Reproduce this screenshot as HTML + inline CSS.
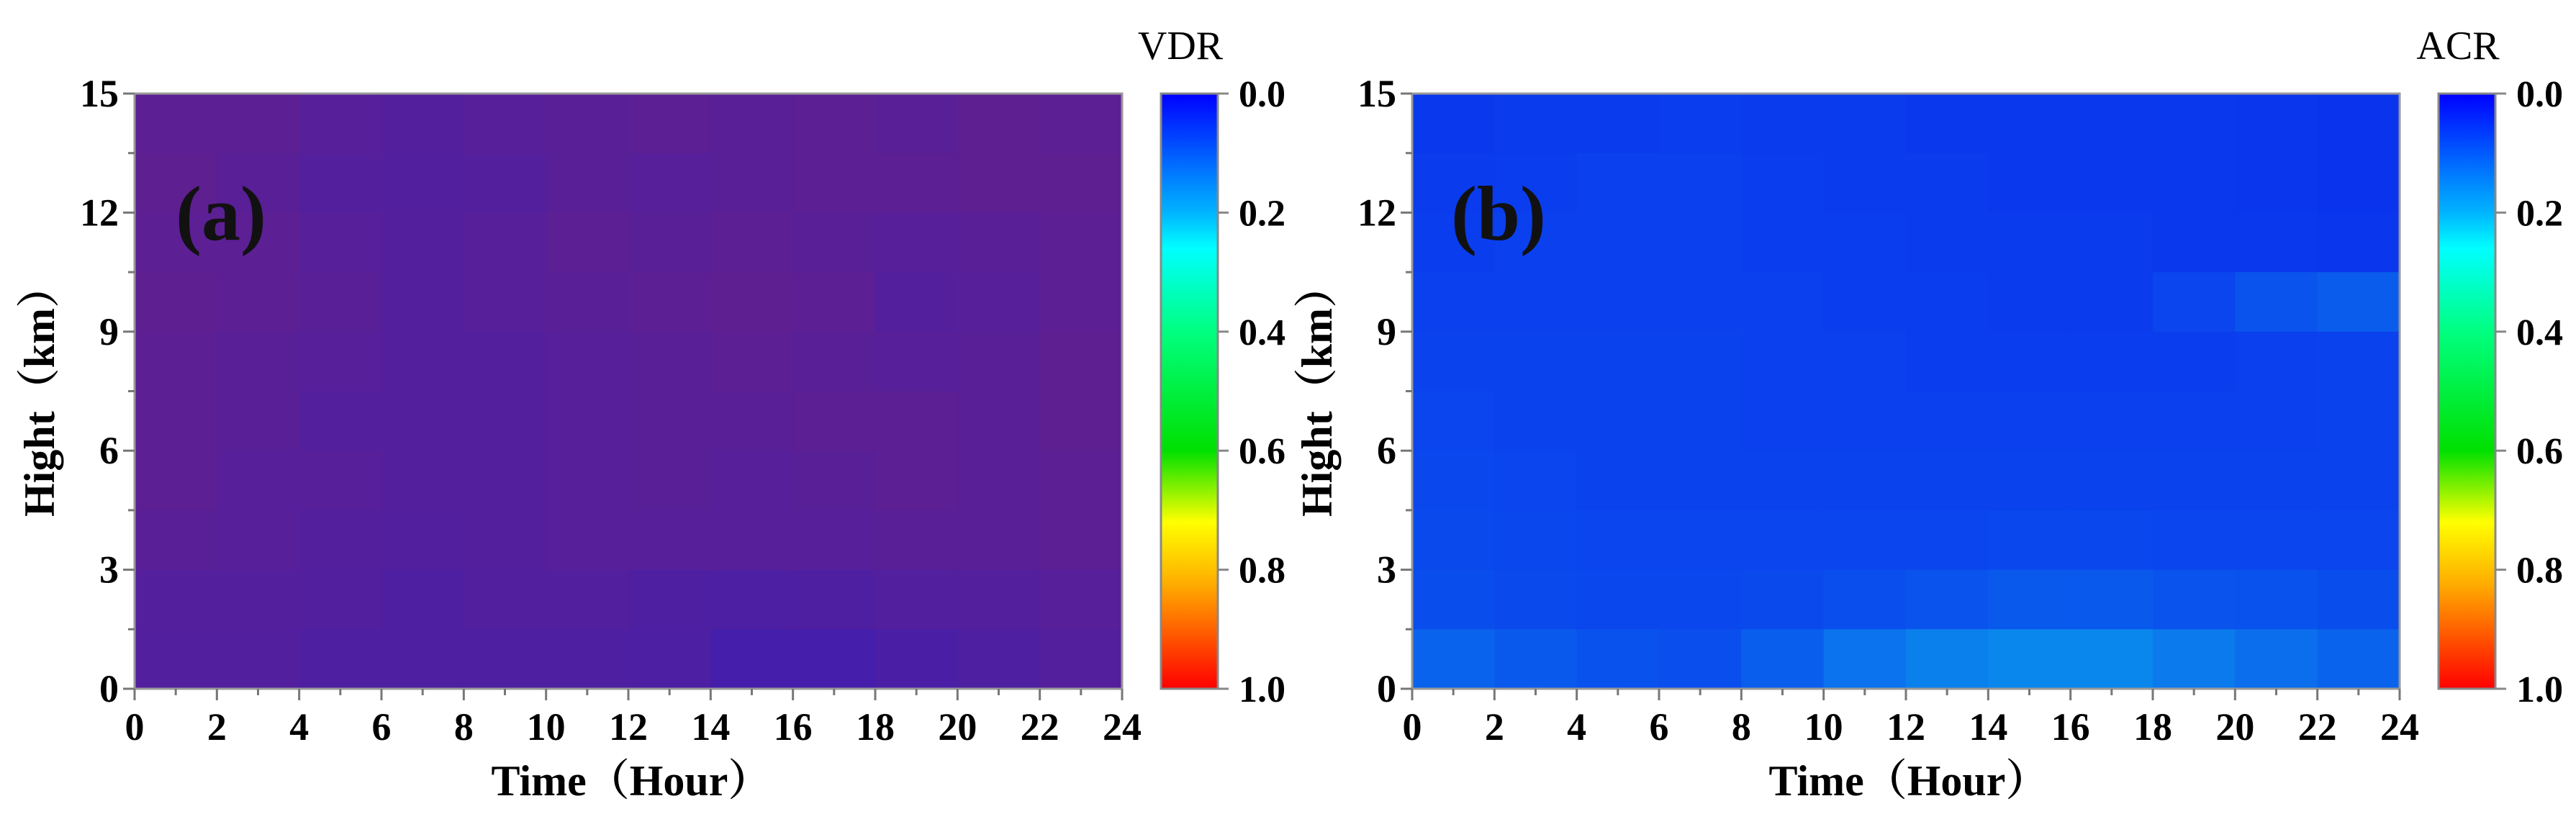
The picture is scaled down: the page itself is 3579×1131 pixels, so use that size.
<!DOCTYPE html>
<html><head><meta charset="utf-8">
<style>
body{margin:0;background:#fff;}
svg{display:block;font-family:"Liberation Serif",serif;}
</style></head>
<body>
<svg id="chart" width="3579" height="1131" viewBox="0 0 3579 1131">
<defs>
<linearGradient id="cmap" x1="0" y1="0" x2="0" y2="1">
<stop offset="0" stop-color="#0000ff"/>
<stop offset="0.2" stop-color="#00b4ff"/>
<stop offset="0.26" stop-color="#00ffff"/>
<stop offset="0.4" stop-color="#00ff80"/>
<stop offset="0.6" stop-color="#00e000"/>
<stop offset="0.72" stop-color="#ffff00"/>
<stop offset="0.82" stop-color="#ffb000"/>
<stop offset="1" stop-color="#ff0000"/>
</linearGradient>
</defs>
</svg>
<script>
// Panel (a): fraction of red (high-VDR) pixels per cell, rows top(15km)->bottom(0km), cols 0..24h by 2h
const vdrRedFrac = [
[0.36,0.36,0.34,0.33,0.34,0.35,0.36,0.35,0.36,0.35,0.37,0.36],
[0.37,0.35,0.33,0.32,0.33,0.35,0.34,0.35,0.36,0.36,0.37,0.37],
[0.36,0.36,0.34,0.33,0.34,0.36,0.35,0.36,0.35,0.34,0.35,0.36],
[0.37,0.36,0.35,0.33,0.34,0.35,0.36,0.37,0.36,0.33,0.34,0.36],
[0.36,0.35,0.34,0.33,0.33,0.34,0.35,0.36,0.35,0.34,0.35,0.37],
[0.36,0.35,0.33,0.33,0.33,0.34,0.35,0.35,0.36,0.36,0.35,0.37],
[0.36,0.34,0.34,0.33,0.33,0.34,0.35,0.34,0.35,0.36,0.35,0.36],
[0.35,0.34,0.33,0.32,0.33,0.34,0.34,0.34,0.34,0.35,0.35,0.36],
[0.33,0.33,0.32,0.31,0.32,0.32,0.31,0.30,0.31,0.32,0.33,0.34],
[0.32,0.32,0.31,0.31,0.31,0.31,0.30,0.27,0.27,0.29,0.31,0.33]
];
// Panel (b): fraction of cyan/green (mid-ACR) pixels per cell
const acrCyanFrac = [
[0.19,0.20,0.20,0.21,0.20,0.20,0.19,0.19,0.19,0.19,0.18,0.17],
[0.20,0.21,0.22,0.22,0.21,0.20,0.20,0.19,0.19,0.19,0.18,0.17],
[0.21,0.22,0.22,0.22,0.21,0.21,0.20,0.20,0.20,0.19,0.19,0.18],
[0.22,0.22,0.22,0.22,0.22,0.21,0.21,0.20,0.20,0.24,0.30,0.33],
[0.23,0.23,0.23,0.23,0.22,0.22,0.21,0.21,0.21,0.21,0.22,0.23],
[0.24,0.23,0.23,0.23,0.22,0.22,0.22,0.22,0.22,0.22,0.22,0.23],
[0.25,0.24,0.23,0.23,0.23,0.23,0.23,0.23,0.23,0.23,0.23,0.23],
[0.26,0.25,0.24,0.24,0.24,0.24,0.24,0.25,0.25,0.24,0.24,0.24],
[0.27,0.26,0.25,0.25,0.26,0.28,0.30,0.32,0.32,0.30,0.29,0.27],
[0.36,0.32,0.29,0.28,0.34,0.42,0.47,0.50,0.50,0.45,0.40,0.36]
];
const xTicks = [0,2,4,6,8,10,12,14,16,18,20,22,24];
const yTicks = [0,3,6,9,12,15];
const cbTicks = ["0.0","0.2","0.4","0.6","0.8","1.0"];

const NS = "http://www.w3.org/2000/svg";
const svg = document.getElementById('chart');
function mk(tag, attrs, parent){
  const e = document.createElementNS(NS, tag);
  for (const k in attrs) e.setAttribute(k, attrs[k]);
  (parent||svg).appendChild(e);
  return e;
}
const PW = 1372, PT = 130, PB = 957;

function mixA(r){
  const b = 0.88 - r, g = 0.06, c = 0.06;
  return `rgb(${Math.round(255*r)},${Math.round(255*(g+c))},${Math.round(255*(b+c))})`;
}
function mixB(c){
  const rr = 0.04, g = 0.03, b = 1 - c - rr - g;
  return `rgb(${Math.round(255*rr)},${Math.round(255*(c+g))},${Math.round(255*(b+c))})`;
}

function panel(id, left, grid, mixer, label, cbLabel){
  const xs = h => left + h / 24 * PW;
  const ys = km => PB - km / 15 * (PB - PT);
  const g = mk('g', {});
  
  
  const rows = grid.length, cols = grid[0].length;
  const hm = mk('g', {}, g);
  
  
  for (let r = 0; r < rows; r++) for (let c = 0; c < cols; c++) {
    const h0 = c * 24 / cols, h1 = (c + 1) * 24 / cols;
    const k1 = 15 - r * 15 / rows, k0 = 15 - (r + 1) * 15 / rows;
    const cell = mk('rect', {x: xs(h0), y: ys(k1), width: xs(h1) - xs(h0) + 0.5, height: ys(k0) - ys(k1) + 0.5, fill: mixer(grid[r][c])}, hm);
    
    
  }
  const fr = mk('rect', {x: left, y: PT, width: PW, height: PB - PT, fill: 'none', stroke: '#999', 'stroke-width': 3}, g);
  
  
  for (let h = 0; h <= 24; h++) {
    const major = h % 2 === 0;
    mk('line', {x1: xs(h), x2: xs(h), y1: PB, y2: PB + (major ? 16 : 9), stroke: '#777', 'stroke-width': 3}, g);
  }
  xTicks.forEach(t => {
    const tx = mk('text', {x: xs(t), y: 1028, 'font-size': 54, 'font-weight': 'bold', 'text-anchor': 'middle'}, g);
    tx.textContent = t;
    
    
  });
  for (let k = 0; k <= 15; k += 1.5) {
    const major = Math.abs(k % 3) < 1e-6;
    mk('line', {x1: left, x2: left - (major ? 16 : 9), y1: ys(k), y2: ys(k), stroke: '#777', 'stroke-width': 3}, g);
  }
  yTicks.forEach(t => {
    const ty = mk('text', {x: left - 22, y: ys(t) + 18, 'font-size': 54, 'font-weight': 'bold', 'text-anchor': 'end'}, g);
    ty.textContent = t;
    
    
  });
  const xt = mk('text', {x: left + 690, y: 1105, 'font-size': 60, 'font-weight': 'bold', 'text-anchor': 'middle', 'font-family': '"Liberation Serif","Noto Serif CJK SC",serif'}, g);
  xt.textContent = 'Time（Hour）';
  
  
  const yt = mk('text', {x: 0, y: 0, 'font-size': 60, 'font-weight': 'bold', 'text-anchor': 'middle', transform: `translate(${left - 112},543) rotate(-90)`, 'font-family': '"Liberation Serif","Noto Serif CJK SC",serif'}, g);
  yt.textContent = 'Hight（km）';
  
  
  const pl = mk('text', {x: left + 120, y: 333, 'font-size': 108, 'font-weight': 'bold', 'text-anchor': 'middle', fill: '#111'}, g);
  pl.textContent = label;
  
  
  const cbx = left + PW + 54;
  const cb = mk('rect', {x: cbx, y: PT, width: 79, height: PB - PT, fill: 'url(#cmap)', stroke: '#888', 'stroke-width': 3}, g);
  
  
  cbTicks.forEach((t, i) => {
    const y = PT + i / (cbTicks.length - 1) * (PB - PT);
    mk('line', {x1: cbx + 79, x2: cbx + 94, y1: y, y2: y, stroke: '#888', 'stroke-width': 3}, g);
    const tl = mk('text', {x: cbx + 108, y: y + 18, 'font-size': 52, 'font-weight': 'bold'}, g);
    tl.textContent = t;
    
    
  });
  const ct = mk('text', {x: cbx + 27, y: 82, 'font-size': 56, 'text-anchor': 'middle'}, g);
  ct.textContent = cbLabel;
  
  
}
panel('a', 187, vdrRedFrac, mixA, '(a)', 'VDR');
panel('b', 1962, acrCyanFrac, mixB, '(b)', 'ACR');
</script>
</body></html>
